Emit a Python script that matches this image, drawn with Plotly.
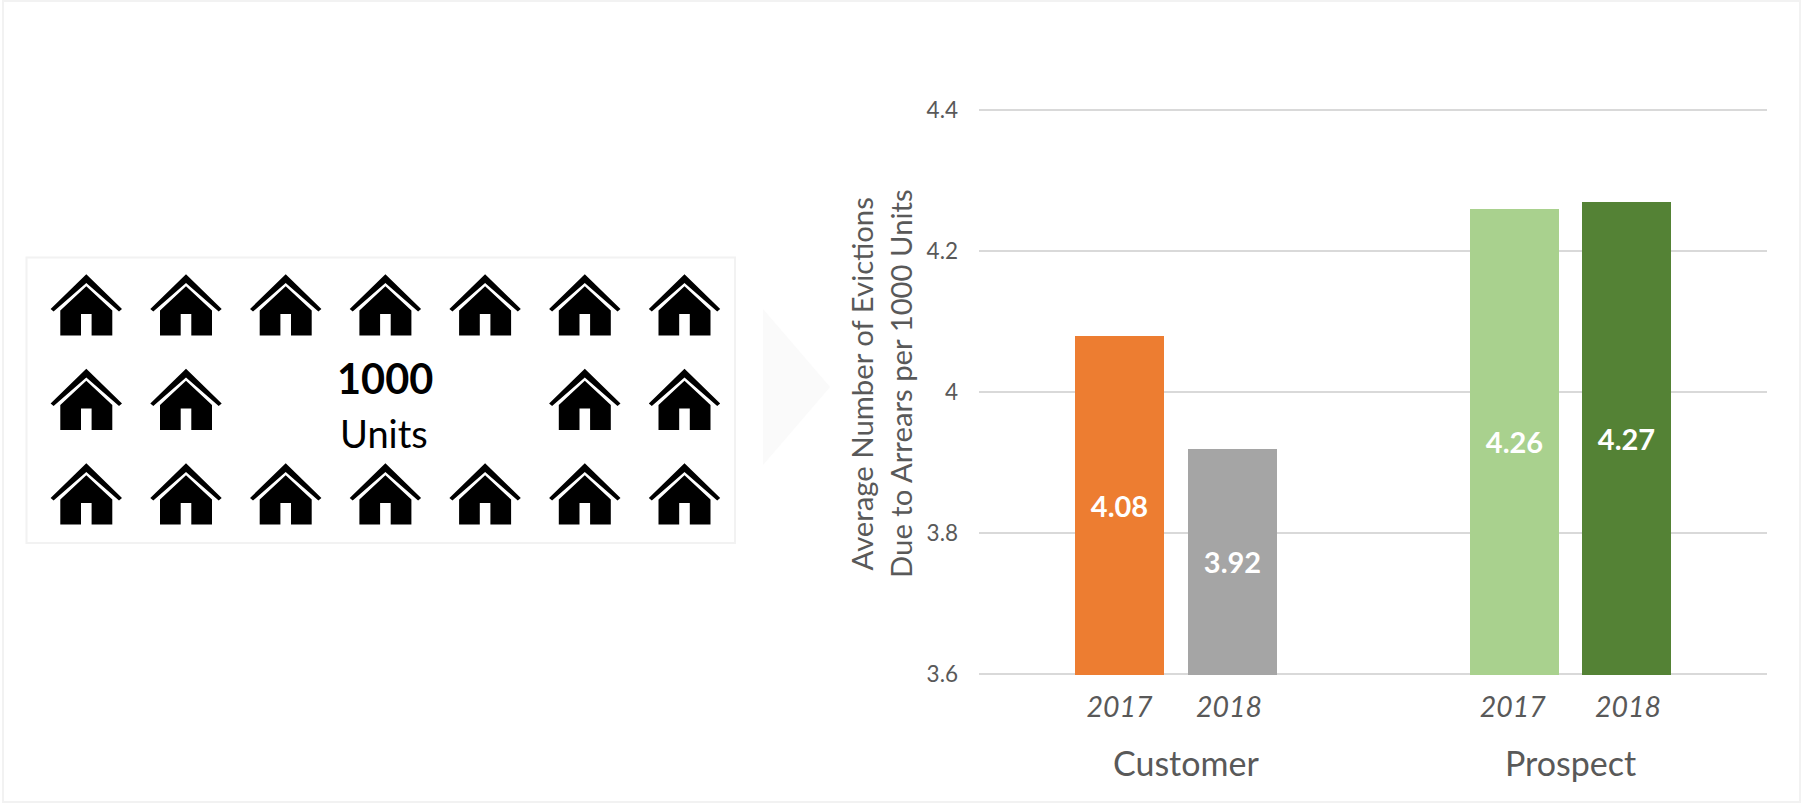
import plotly.graph_objects as go

FONT = "Lato"
GREY = "#595959"

categories = ["Customer", "Customer", "Prospect", "Prospect"]
years = ["2017", "2018", "2017", "2018"]
values = [4.08, 3.92, 4.26, 4.27]
bar_colors = ["#ED7D31", "#A5A5A5", "#A9D18E", "#548235"]
slots = [0, 1, 3.496, 4.487]
tick_slots = [0, 0.97, 3.48, 4.5]
y_ticks = [3.6, 3.8, 4.0, 4.2, 4.4]
y_labels = ["3.6", "3.8", "4", "4.2", "4.4"]
y_title_lines = ["Average Number of Evictions", "Due to Arrears per 1000 Units"]
groups = [("Customer", 0.585), ("Prospect", 3.99)]
house_columns = [0, 1, 2, 3, 4, 5, 6]
house_rows = [0, 1, 2]
center_big = "1000"
center_small = "Units"
axis_floor = 3.6

W, H = 1801, 803
# the 1.5 px / 0.0021 pad keeps the 3.6 and 4.4 gridlines, which plotly drops at the exact axis ends
L, R, T, B = 979, 1767, 108.5, 675.5
Y_RANGE = [3.5979, 4.4021]


def px_x(v):
    return v / W


def px_y(v):
    return 1 - v / H


fig = go.Figure()
fig.add_trace(go.Bar(
    x=slots, y=[v - axis_floor for v in values], base=axis_floor, width=0.79,
    marker=dict(color=bar_colors, line=dict(width=0)),
    text=[f"{v:.2f}" for v in values],
    textposition="inside", insidetextanchor="middle", textangle=0,
    insidetextfont=dict(family=FONT, size=29, color="#FFFFFF", weight="bold"),
    hoverinfo="skip",
))

# full-canvas pixel axes for the icons and frame
fig.update_layout(
    xaxis2=dict(domain=[0, 1], range=[0, W], visible=False, anchor="y2", fixedrange=True, automargin=False),
    yaxis2=dict(domain=[0, 1], range=[H, 0], visible=False, anchor="x2", fixedrange=True, automargin=False),
)
fig.add_trace(go.Scatter(x=[0], y=[0], xaxis="x2", yaxis="y2", mode="markers",
                         marker=dict(opacity=0), hoverinfo="skip", showlegend=False))

shapes = []


def pix_shape(**kw):
    return dict(xref="x2", yref="y2", layer="below", **kw)


shapes.append(pix_shape(type="rect", x0=3, y0=1, x1=1800, y1=802,
                        line=dict(color="#F2F2F2", width=2)))
shapes.append(pix_shape(type="rect", x0=26.5, y0=257.5, x1=735, y1=543,
                        line=dict(color="#F2F2F2", width=2)))
shapes.append(pix_shape(type="path", path="M 763 309 L 830 387 L 763 465 Z",
                        line=dict(width=0), fillcolor="#FAFAFA"))


def house(cx, ty):
    def p(dx, dy):
        return f"{cx + dx / 3:.1f} {ty + dy / 3:.1f}"
    roof = ["M " + p(0, 0), "L " + p(107, 104), "L " + p(98, 112), "L " + p(0, 26),
            "L " + p(-98, 112), "L " + p(-107, 104), "Z"]
    body = ["M " + p(0, 36), "L " + p(78, 109), "L " + p(78, 184), "L " + p(16, 184),
            "L " + p(16, 119), "L " + p(-16, 119), "L " + p(-16, 184), "L " + p(-78, 184),
            "L " + p(-78, 109), "Z"]
    return " ".join(roof + body)


for r in house_rows:
    for c in house_columns:
        if r == 1 and c in (2, 3, 4):
            continue
        shapes.append(pix_shape(type="path", path=house(86.3 + c * 99.7, 274.3 + r * 94.5),
                                line=dict(width=0), fillcolor="#000000"))

annotations = [
    dict(text=center_big, xref="x2", yref="y2", x=384.5, y=378, showarrow=False,
         font=dict(family=FONT, size=41.5, color="#000000", weight="bold"), xanchor="center", yanchor="middle"),
    dict(text=center_small, xref="x2", yref="y2", x=384, y=433, showarrow=False,
         font=dict(family=FONT, size=38, color="#000000"), xanchor="center", yanchor="middle"),
    dict(text=y_title_lines[0], xref="x2", yref="y2", x=861, y=384.5, showarrow=False, textangle=-90,
         font=dict(family=FONT, size=29.3, color=GREY), xanchor="center", yanchor="middle"),
    dict(text=y_title_lines[1], xref="x2", yref="y2", x=900, y=384, showarrow=False, textangle=-90,
         font=dict(family=FONT, size=29.3, color=GREY), xanchor="center", yanchor="middle"),
]
for name, pos in groups:
    annotations.append(dict(text=name, x=pos, xref="x", y=762, yref="y2", showarrow=False,
                            font=dict(family=FONT, size=34, color=GREY), xanchor="center", yanchor="middle"))

fig.update_layout(
    width=W, height=H, autosize=False,
    margin=dict(l=0, r=0, t=0, b=0, autoexpand=False),
    paper_bgcolor="white", plot_bgcolor="rgba(0,0,0,0)",
    showlegend=False, bargap=0,
    font=dict(family=FONT, color=GREY),
    shapes=shapes, annotations=annotations,
    xaxis=dict(domain=[px_x(L), px_x(R)], range=[-1.243, 5.73], tickvals=tick_slots, ticktext=[f"<i>{y}</i>" for y in years],
               tickfont=dict(family=FONT, size=28.5, color=GREY), showgrid=False, zeroline=False,
               showline=False, ticks="", anchor="y", fixedrange=True, automargin=False, ticklabelstandoff=12),
    yaxis=dict(domain=[px_y(B), px_y(T)], range=Y_RANGE, tickvals=y_ticks, ticktext=y_labels,
               tickfont=dict(family=FONT, size=22.5, color=GREY), showgrid=True, gridcolor="#D9D9D9", gridwidth=2,
               zeroline=False, showline=False, ticks="", ticklen=0, anchor="x", fixedrange=True, automargin=False,
               ticklabelstandoff=20),
)

fig.write_html("out.html", config={"displayModeBar": False},
               post_script="document.body.style.margin='0';document.documentElement.style.overflow='hidden';")
